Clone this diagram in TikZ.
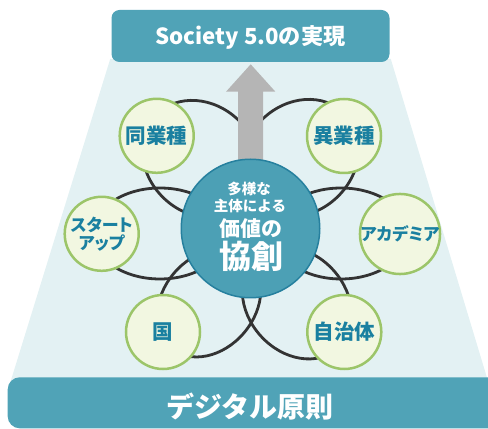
\documentclass[tikz,border=0pt]{standalone}
\usepackage{fontspec}
\setmainfont{Noto Sans CJK JP}
\newfontfamily\jpp{Noto Sans CJK JP}[RawFeature=+palt]
\definecolor{boxteal}{RGB}{80,163,183}
\definecolor{mainfill}{RGB}{76,160,181}
\definecolor{mainborder}{RGB}{38,128,158}
\definecolor{bglight}{RGB}{227,241,243}
\definecolor{greenborder}{RGB}{156,197,105}
\definecolor{smallfill}{RGB}{242,247,225}
\definecolor{textteal}{RGB}{26,128,160}
\definecolor{ringcol}{RGB}{51,51,51}
\definecolor{arrowgray}{RGB}{181,181,181}
\begin{document}
\begin{tikzpicture}[x=1pt,y=1pt,
  tealbox/.style={fill=boxteal,draw=none,inner sep=0pt},
  ring/.style={draw=ringcol,line width=2.8pt},
  small/.style={circle,fill=smallfill,draw=greenborder,line width=2.5pt,minimum size=74pt,inner sep=0pt,align=center,text=textteal},
  kfont/.style={font=\bfseries\fontsize{20.5}{22}\selectfont},
  kafont/.style={font=\jpp\bfseries\fontsize{17}{18}\selectfont},
  maincirc/.style={circle,fill=mainfill,draw=mainborder,line width=1.5pt,minimum size=138.5pt,inner sep=0pt},
  ctext/.style={text=white,inner sep=0pt}]
\path[use as bounding box] (0,0) rectangle (488,429);
\clip (0,0) rectangle (488,429);
% light trapezoid
\fill[bglight] (110.2,370) -- (390.8,370) -- (488.9,45) -- (9.8,45) -- cycle;
% top and bottom boxes
\node[tealbox,minimum width=278pt,minimum height=52pt,rounded corners=8pt] (top) at (250.5,393) {};
\node[ctext,anchor=base,font=\bfseries\fontsize{22.2}{24}\selectfont] (toptext) at (250.5,384.3) {Society 5.0の実現};
\node[tealbox,minimum width=505pt,minimum height=51pt,rounded corners=12pt,anchor=south west] (bottom) at (7.5,0.5) {};
\node[ctext,font=\bfseries\fontsize{28}{30}\selectfont] (bottomtext) at (250,22.5) {デジタル原則};
% rings
\draw[ring,rotate around={-44.7:(201,270)}] (201,270) ellipse [x radius=63pt,y radius=54pt];
\draw[ring,rotate around={44.7:(300,271)}] (300,271) ellipse [x radius=63pt,y radius=54pt];
\draw[ring] (160,195.5) ellipse [x radius=67pt,y radius=45.5pt];
\draw[ring] (341,195.5) ellipse [x radius=67pt,y radius=45.5pt];
\draw[ring,rotate around={49.8:(209,126)}] (209,126) ellipse [x radius=59pt,y radius=46pt];
\draw[ring,rotate around={-48:(297,126)}] (297,126) ellipse [x radius=61pt,y radius=49pt];
% main circle position and arrow
\coordinate (mainc) at (250.5,200.5);
\coordinate (tip) at (250.7,364.7);
\fill[arrowgray] ([xshift=-12.5pt]mainc) -- ([xshift=-12.5pt,yshift=-27.4pt]tip) -- ([xshift=-24.7pt,yshift=-27.4pt]tip) -- (tip) -- ([xshift=24.7pt,yshift=-27.4pt]tip) -- ([xshift=12.5pt,yshift=-27.4pt]tip) -- ([xshift=12.5pt]mainc) -- cycle;
\node[maincirc] (main) at (mainc) {};
\node[ctext,font=\bfseries\fontsize{14.5}{15}\selectfont] (c1) at (249,240) {多様な};
\node[ctext,font=\bfseries\fontsize{14.5}{15}\selectfont] (c2) at (250,223) {主体による};
\node[ctext,font=\bfseries\fontsize{21}{22}\selectfont] (c3) at (251,200.5) {価値の};
\node[ctext,font=\bfseries\fontsize{32}{34}\selectfont] (c4) at (251,173) {協創};
% small circles
\node[small,kfont] (dou) at (156.7,293.2) {同業種};
\node[small,kfont] (i) at (344,293) {異業種};
\node[small,kafont] (st) at (101.7,195.2) {スタート\\アップ};
\node[small,kafont] (ac) at (400,195) {アカデミア};
\node[small,kfont] (kuni) at (163,97) {国};
\node[small,kfont] (ji) at (344.3,97) {自治体};
\end{tikzpicture}
\end{document}
